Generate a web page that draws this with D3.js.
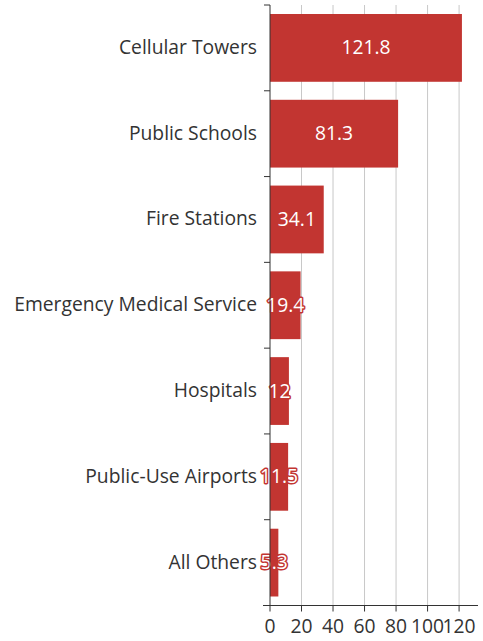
<!DOCTYPE html>
<html><head><meta charset="utf-8">
<script src="https://cdn.jsdelivr.net/npm/d3@7"></script>
<style>html,body{margin:0;padding:0;background:#fff;}svg{display:block;}</style>
</head><body>
<script>
const categories = ["Cellular Towers","Public Schools","Fire Stations","Emergency Medical Service","Hospitals","Public-Use Airports","All Others"];
const values = [121.8,81.3,34.1,19.4,12,11.5,5.3];
const xTicks = [0,20,40,60,80,100,120];

const W=483,H=641;
const mLeft=270, mRight=478, mTop=5, mBottom=605.5;
const font="'Open Sans', 'Noto Sans', sans-serif";
const fs=19.3;
const svg=d3.select("body").append("svg").attr("width",W).attr("height",H);

const x=d3.scaleLinear().domain([0,132]).range([mLeft,mRight]);
const y=d3.scaleBand().domain(categories).range([mTop,mBottom]).paddingInner(0.21).paddingOuter(0.105);
const step=(mBottom-mTop)/categories.length;

// gridlines
svg.append("g").selectAll("line").data(xTicks.slice(1)).join("line")
  .attr("x1",d=>x(d)).attr("x2",d=>x(d)).attr("y1",mTop).attr("y2",mBottom)
  .attr("stroke","#c8c8c8").attr("stroke-width",1);

// bars
svg.append("g").selectAll("rect").data(categories).join("rect")
  .attr("x",x(0)).attr("y",d=>y(d)).attr("height",y.bandwidth())
  .attr("width",(d,i)=>x(values[i])-x(0)).attr("fill","#c23531");

// bar labels
svg.append("g").selectAll("text").data(categories).join("text")
  .attr("x",(d,i)=>(x(values[i])+x(0))/2).attr("y",d=>y(d)+y.bandwidth()/2-1)
  .attr("text-anchor","middle").attr("dominant-baseline","central")
  .attr("font-family",font).attr("font-size",fs)
  .attr("fill","#fff").attr("stroke","#c23531").attr("stroke-width",3)
  .attr("paint-order","stroke").attr("stroke-linejoin","round")
  .text((d,i)=>values[i]);

// y axis
const ya=svg.append("g");
ya.append("line").attr("x1",mLeft).attr("x2",mLeft).attr("y1",mTop).attr("y2",mBottom).attr("stroke","#333");
ya.selectAll(".tk").data(d3.range(categories.length+1)).join("line")
  .attr("x1",mLeft-6).attr("x2",mLeft).attr("y1",i=>mTop+i*step).attr("y2",i=>mTop+i*step).attr("stroke","#333");
ya.selectAll("text").data(categories).join("text")
  .attr("x",mLeft-13).attr("y",d=>y(d)+y.bandwidth()/2-1.5).attr("text-anchor","end")
  .attr("dominant-baseline","central").attr("font-family",font).attr("font-size",fs).attr("fill","#333")
  .text(d=>d);

// x axis
const xa=svg.append("g");
xa.append("line").attr("x1",mLeft-7).attr("x2",mRight).attr("y1",mBottom).attr("y2",mBottom).attr("stroke","#333");
xa.selectAll(".tk").data(xTicks).join("line")
  .attr("x1",d=>x(d)).attr("x2",d=>x(d)).attr("y1",mBottom).attr("y2",mBottom+6).attr("stroke","#333");
xa.selectAll("text").data(xTicks).join("text")
  .attr("x",d=>x(d)).attr("y",mBottom+19.5).attr("text-anchor","middle")
  .attr("dominant-baseline","central").attr("font-family",font).attr("font-size",fs).attr("fill","#333")
  .text(d=>d);
</script>
</body></html>
